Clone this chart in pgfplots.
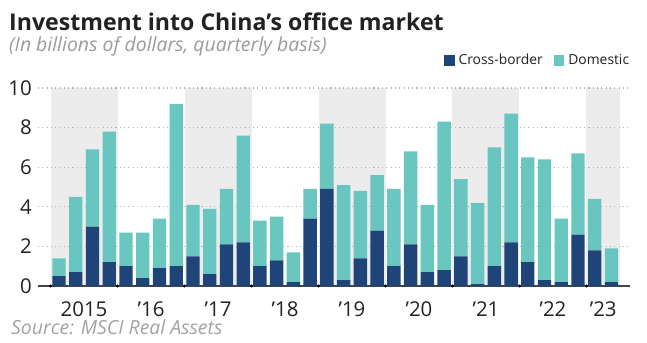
\documentclass[border=0pt]{standalone}
\usepackage{fontspec}
\setmainfont{Open Sans}
\usepackage{pgfplots}
\pgfplotsset{compat=1.18}
\usepackage{pgfplotstable}
\definecolor{navy}{HTML}{1F4478}
\definecolor{tealc}{HTML}{5EC3BC}
\definecolor{shade}{HTML}{ECECEC}
\definecolor{subgray}{HTML}{9B9B9B}
\definecolor{srcgray}{HTML}{A3A3A3}
\definecolor{labelc}{HTML}{222222}
\definecolor{gridc}{HTML}{B5B5B5}
\definecolor{axisc}{HTML}{444444}

\pgfplotstableread{
idx cross dom
0 0.5 0.9
1 0.7 3.8
2 3.0 3.9
3 1.2 6.6
4 1.0 1.7
5 0.4 2.3
6 0.9 2.5
7 1.0 8.2
8 1.5 2.6
9 0.6 3.3
10 2.1 2.8
11 2.2 5.4
12 1.0 2.3
13 1.3 2.2
14 0.2 1.5
15 3.4 1.5
16 4.9 3.3
17 0.3 4.8
18 1.4 3.4
19 2.8 2.8
20 1.0 3.9
21 2.1 4.7
22 0.7 3.4
23 0.8 7.5
24 1.5 3.9
25 0.1 4.1
26 1.0 6.0
27 2.2 6.5
28 1.2 5.3
29 0.3 6.1
30 0.2 3.2
31 2.6 4.1
32 1.8 2.6
33 0.2 1.7
}\datatable

\pgfplotsset{frameaxis/.style={
  at={(38bp,-286bp)}, anchor=south west,
  scale only axis, width=592bp, height=198bp,
  xmin=-1.25, xmax=34.1, ymin=0, ymax=10}}

\begin{document}
\begin{tikzpicture}
\useasboundingbox (0,0) rectangle (647bp,-343bp);
\fill[white] (0,0) rectangle (647bp,-343bp);
\node[anchor=base west, inner sep=0pt, text=labelc, font=\bfseries\fontsize{23.2}{27}\selectfont] at (9bp,-30bp) {Investment into China’s office market};
\node[anchor=base west, inner sep=0pt, text=subgray, font=\itshape\fontsize{19.5}{23}\selectfont] at (9bp,-51bp) {(In billions of dollars, quarterly basis)};
\node[anchor=base west, inner sep=0pt, text=srcgray, font=\itshape\fontsize{19.5}{23}\selectfont] at (11bp,-334bp) {Source: MSCI Real Assets};
% background bands
\begin{axis}[frameaxis, hide axis]
\addplot[fill=shade, draw=none] coordinates {(-0.5,0) (-0.5,10) (3.5,10) (3.5,0)} -- cycle;
\addplot[fill=shade, draw=none] coordinates {(7.5,0) (7.5,10) (11.5,10) (11.5,0)} -- cycle;
\addplot[fill=shade, draw=none] coordinates {(15.5,0) (15.5,10) (19.5,10) (19.5,0)} -- cycle;
\addplot[fill=shade, draw=none] coordinates {(23.5,0) (23.5,10) (27.5,10) (27.5,0)} -- cycle;
\addplot[fill=shade, draw=none] coordinates {(31.5,0) (31.5,10) (33.5,10) (33.5,0)} -- cycle;
\end{axis}
\begin{axis}[
  frameaxis,
  ybar stacked, bar width=13.3bp,
  axis lines*=left,
  y axis line style={draw=none},
  x axis line style={draw=axisc, line width=1.3bp},
  ytick={0,2,4,6,8,10},
  ymajorgrids,
  grid style={draw=gridc, line width=1.1bp, dash pattern=on 1.1bp off 3.2bp},
  major tick length=0pt,
  xtick={1.5,5.5,9.5,13.5,17.5,21.5,25.5,29.5,32.5},
  xticklabels={2015,’16,’17,’18,’19,’20,’21,’22,’23},
  extra x ticks={-0.5,3.5,7.5,11.5,15.5,19.5,23.5,27.5,31.5},
  extra x tick labels={},
  extra x tick style={major tick length=0.2bp, tick align=center, tick style={draw=black, line width=3bp, line cap=round}},
  /pgf/number format/assume math mode=true,
  tick label style={font=\fontsize{20.5}{24}\selectfont, text=labelc},
  yticklabel style={anchor=base east, inner sep=0pt, xshift=-6bp, yshift=-7.3bp},
  xticklabel style={anchor=base, inner sep=0pt, yshift=-30bp},
  legend columns=2,
  legend style={draw=none, fill=none, at={(rel axis cs:0.686,1.139)}, anchor=west,
    inner sep=0pt, outer sep=0pt, font=\fontsize{13.9}{16}\selectfont, text=labelc,
    /tikz/every odd column/.append style={column sep=4bp},
    /tikz/every even column/.append style={column sep=11bp},
    nodes={inner sep=0pt}},
  legend image code/.code={\fill[#1] (0bp,-5.25bp) rectangle (10.5bp,5.25bp);},
]
\addplot[fill=navy, draw=none] table[x=idx, y=cross] {\datatable};
\addlegendentry{Cross-border}
\addplot[fill=tealc, draw=none, fill opacity=0.93] table[x=idx, y=dom] {\datatable};
\addlegendentry{Domestic}
\end{axis}
\end{tikzpicture}
\end{document}
